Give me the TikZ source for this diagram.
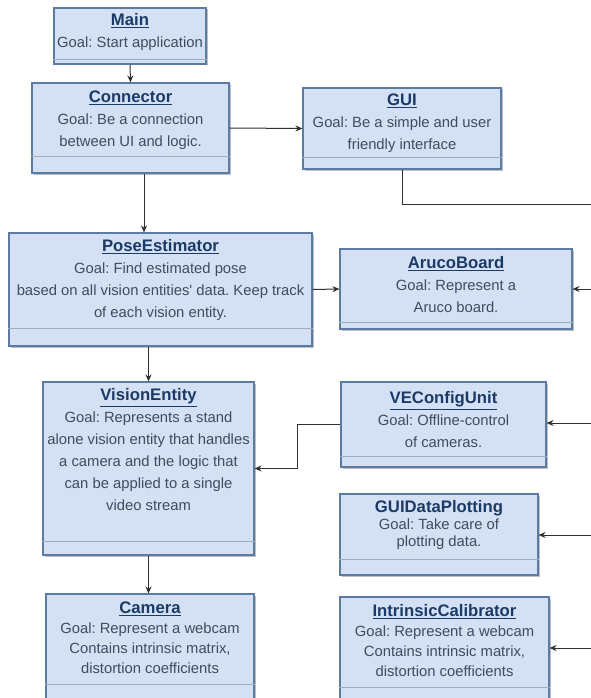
\documentclass[tikz,border=0pt]{standalone}
\usepackage{fontspec}
\setmainfont{Liberation Sans}
\usetikzlibrary{arrows.meta,shadows}
\frenchspacing

\definecolor{boxfill}{HTML}{D4E1F5}
\definecolor{boxline}{HTML}{5B7BA3}
\definecolor{titleblue}{HTML}{1B3A66}
\definecolor{goalgray}{HTML}{3D4C60}
\definecolor{divgray}{HTML}{A3ACB8}
\definecolor{linkgray}{HTML}{303030}

\tikzset{
  umlbox/.style={draw=boxline, fill=boxfill, line width=1.1pt, inner sep=0pt,
    drop shadow={shadow xshift=1.5pt, shadow yshift=-1.5pt, opacity=0.25, fill=black}},
  umltext/.style={align=center, text=goalgray, inner sep=0pt,
    font=\fontsize{14.8}{22}\selectfont},
  divider/.style={draw=divgray, line width=0.8pt},
  link/.style={draw=linkgray, line width=1pt, -{Stealth[length=7pt,width=6pt]}},
  wire/.style={draw=linkgray, line width=1pt}
}
\newcommand{\btitle}[1]{{\fontsize{16.7}{0}\selectfont\textcolor{titleblue}{\textbf{#1}}}}
\newcommand{\utitle}[1]{{\fontsize{16.7}{0}\selectfont\textcolor{titleblue}{\underline{\textbf{#1}}}}}

\begin{document}
\begin{tikzpicture}[x=1pt,y=-1pt]
   \useasboundingbox (0,0) rectangle (591,698);
   \clip (0,0) rectangle (591,698);

   % boxes
   \node[umlbox, minimum width=152, minimum height=56]  (main)     at (130,36)      {};
   \node[umlbox, minimum width=197, minimum height=90]  (conn)     at (130.5,128)   {};
   \node[umlbox, minimum width=198, minimum height=81]  (gui)      at (402,128.5)   {};
   \node[umlbox, minimum width=303, minimum height=113] (pose)     at (160.5,289.5) {};
   \node[umlbox, minimum width=232, minimum height=80]  (aruco)    at (456,289)     {};
   \node[umlbox, minimum width=211, minimum height=173] (ventity)  at (148.5,468.5) {};
   \node[umlbox, minimum width=205, minimum height=85]  (vecfg)    at (443.5,424.5) {};
   \node[umlbox, minimum width=198, minimum height=81]  (plotting) at (439,534.5)   {};
   \node[umlbox, minimum width=208, minimum height=116] (camera)   at (150,652)     {};
   \node[umlbox, minimum width=209, minimum height=113] (calib)    at (444.5,653.5) {};

   % dividers
   \draw[divider] (main.west |- 0,59)     -- (main.east |- 0,59);
   \draw[divider] (conn.west |- 0,156)    -- (conn.east |- 0,156);
   \draw[divider] (gui.west |- 0,157)     -- (gui.east |- 0,157);
   \draw[divider] (pose.west |- 0,328)    -- (pose.east |- 0,328);
   \draw[divider] (aruco.west |- 0,322)   -- (aruco.east |- 0,322);
   \draw[divider] (ventity.west |- 0,541) -- (ventity.east |- 0,541);
   \draw[divider] (vecfg.west |- 0,456)   -- (vecfg.east |- 0,456);
   \draw[divider] (plotting.west |- 0,559) -- (plotting.east |- 0,559);
   \draw[divider] (camera.west |- 0,684)  -- (camera.east |- 0,684);
   \draw[divider] (calib.west |- 0,687)   -- (calib.east |- 0,687);

   % texts
   \node[umltext] (main-t) at (130,32) {\utitle{Main}\\Goal: Start application};
   \node[umltext] (conn-t) at (130.5,120) {\utitle{Connector}\\Goal: Be a connection\\between UI and logic.};
   \node[umltext] (gui-t) at (402,123) {\utitle{GUI}\\Goal: Be a simple and user\\friendly interface};
   \node[umltext] (pose-t) at (160.5,280) {\utitle{PoseEstimator}\\Goal: Find estimated pose\\based on all vision entities\textquotesingle{} data. Keep track\\of each vision entity.};
   \node[umltext] (aruco-t) at (456,285) {\utitle{ArucoBoard}\\Goal: Represent a\\Aruco board.};
   \node[umltext] (ventity-t) at (148.5,450) {\utitle{VisionEntity}\\Goal: Represents a stand\\alone vision entity that handles\\a camera and the logic that\\can be applied to a single\\video stream};
   \node[umltext] (vecfg-t) at (443.5,420) {\utitle{VEConfigUnit}\\Goal: Offline-control\\of cameras.};
   \node[umltext, font=\fontsize{14.8}{17}\selectfont] (plotting-t) at (439,525) {\btitle{GUIDataPlotting}\\Goal: Take care of\\plotting data.};
   \node[umltext, font=\fontsize{14.8}{20}\selectfont] (camera-t) at (150,638) {\utitle{Camera}\\Goal: Represent a webcam\\Contains intrinsic matrix,\\distortion coefficients};
   \node[umltext, font=\fontsize{14.8}{20}\selectfont] (calib-t) at (444.5,641) {\utitle{IntrinsicCalibrator}\\Goal: Represent a webcam\\Contains intrinsic matrix,\\distortion coefficients};

   % connectors
   \coordinate (inA) at (600,289);
   \coordinate (inB) at (600,423);
   \coordinate (inC) at (600,535);
   \coordinate (inD) at (600,648);
   \coordinate (outG) at (600,204);
   \draw[link] (main.south) -- (conn.north);
   \draw[link] (conn.east) -- (gui.west);
   \draw[link] ([xshift=13.5pt]conn.south) -- ([xshift=13.5pt]conn.south |- pose.north);
   \draw[link] (pose.east) -- (aruco.west);
   \draw[link] (pose.south -| ventity.north) -- (ventity.north);
   \draw[link] (vecfg.west) -- ++(-43,0) |- (ventity.east);
   \draw[link] (ventity.south) -- (ventity.south |- camera.north);
   \draw[wire] (gui.south) |- (outG);
   \draw[link] (inA) -- (inA -| aruco.east);
   \draw[link] (inB) -- (inB -| vecfg.east);
   \draw[link] (inC) -- (inC -| plotting.east);
   \draw[link] (inD) -- (inD -| calib.east);
\end{tikzpicture}
\end{document}
